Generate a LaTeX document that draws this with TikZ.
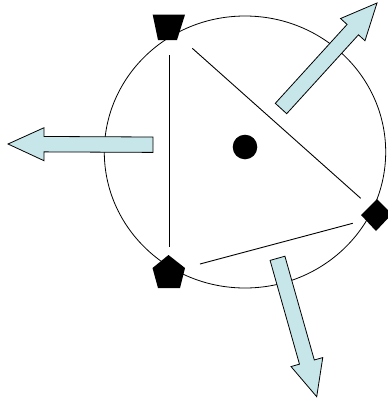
\documentclass[tikz,border=0pt]{standalone}
\usetikzlibrary{calc}
\definecolor{arrowblue}{RGB}{198,230,233}
\tikzset{
  outline/.style={draw=black,line width=0.8pt},
  edge/.style={draw=black,line width=0.9pt},
  vertexfill/.style={fill=black,draw=none},
  arrowfill/.style={fill=arrowblue,draw=black,line width=0.8pt,line join=miter}
}
\newcommand\blockarr[2]{%
  \coordinate (#1s) at ($(#2)!36pt!(#1)$);
  \path[arrowfill] ($(#1)!7.7pt!90:(#2)$) -- ($(#1s)!7.7pt!-90:(#1)$)
    -- ($(#1s)!16.5pt!-90:(#1)$) -- (#2) -- ($(#1s)!16.5pt!90:(#1)$)
    -- ($(#1s)!7.7pt!90:(#1)$) -- ($(#1)!7.7pt!-90:(#2)$) -- cycle;}
\begin{document}
\begin{tikzpicture}[x=1pt,y=-1pt]
\useasboundingbox (0,0) rectangle (388,400);
% circle
\coordinate (c) at (245,152);
\draw[outline] (c) ellipse [x radius=140.7, y radius=136];
% triangle edges
\coordinate (e1a) at (169.5,55); \coordinate (e1b) at (169.5,247);
\coordinate (e2a) at (192.3,48.3); \coordinate (e2b) at (360.7,198.3);
\coordinate (e3a) at (200,264); \coordinate (e3b) at (352.7,223.3);
\draw[edge] (e1a) -- (e1b);
\draw[edge] (e2a) -- (e2b);
\draw[edge] (e3a) -- (e3b);
% centre dot
\fill (245,147) circle (12.3);
% vertices
\path[vertexfill] (152.7,14.7) -- (185,14.7) -- (177,40) -- (158,40) -- cycle;
\path[vertexfill] (377,199) -- (392,214) -- (376,231) -- (361,215) -- cycle;
\path[vertexfill] (168.5,255) -- (185,268) -- (180,288) -- (158,288) -- (152.5,268) -- cycle;
% arrows
\coordinate (la) at (153,144.7); \coordinate (lb) at (8,144);
\coordinate (ua) at (281,108.5); \coordinate (ub) at (377,3);
\coordinate (da) at (277.5,258.3); \coordinate (db) at (316.7,396.7);
\blockarr{la}{lb}
\blockarr{ua}{ub}
\blockarr{da}{db}
\end{tikzpicture}
\end{document}
